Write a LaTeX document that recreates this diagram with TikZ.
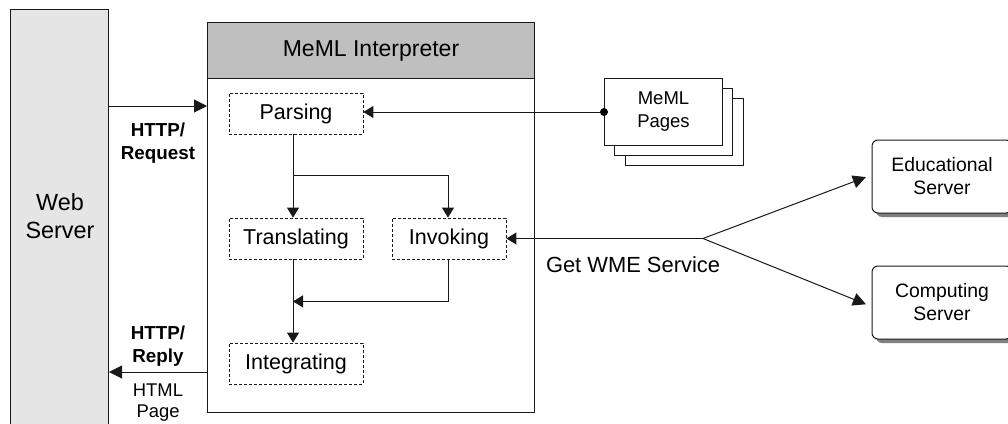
\documentclass[tikz,border=0pt]{standalone}
\usepackage{fontspec}
\setmainfont{Liberation Sans}
\usetikzlibrary{arrows.meta,calc,shadows}
\begin{document}
\begin{tikzpicture}[x=1pt,y=-1pt,
  line/.style={line width=1pt, draw=black!90},
  arr/.style={line, -{Triangle[length=10pt,width=12pt]}},
  bigarr/.style={line, -{Triangle[length=13pt,width=13pt]}},
  stepbox/.style={draw=black!90, line width=0.8pt, dash pattern=on 3pt off 2pt,
    minimum height=41pt, inner sep=0pt, font=\fontsize{21.5}{25}\selectfont},
  lbl/.style={align=center, inner sep=0pt, font=\fontsize{18.8}{23}\selectfont},
  page/.style={draw=black!90, line width=1pt, fill=white, minimum width=118pt,
    minimum height=67pt, inner sep=0pt, anchor=north west},
  server/.style={draw=black!90, line width=1pt, fill=white, rounded corners=6pt,
    minimum width=140pt, minimum height=73pt, inner sep=0pt, align=center,
    font=\fontsize{19.4}{23}\selectfont,
    drop shadow={shadow xshift=4pt, shadow yshift=-4pt, fill=black!50, opacity=1}},
]
\useasboundingbox (0,0) rectangle (1008,423);

% web server column
\node[line, draw, fill=black!10, minimum width=98pt, minimum height=440pt,
  inner sep=0pt, anchor=north west] (web) at (10,9) {};
\node[align=center, font=\fontsize{23.4}{28}\selectfont] (webtext) at (60,216) {Web\\Server};

% interpreter frame and header
\node[line, draw, minimum width=327pt, minimum height=390pt, inner sep=0pt,
  anchor=north west] (interp) at (207,22) {};
\node[line, draw, fill=black!25, minimum width=327pt, minimum height=56pt, inner sep=0pt,
  anchor=north west, font=\fontsize{23}{27}\selectfont] (header) at (207,22) {MeML Interpreter};

% processing steps
\node[stepbox, minimum width=134pt] (parsing) at (296,113.5) {Parsing};
\node[stepbox, minimum width=134pt] (translating) at (296,238.5) {Translating};
\node[stepbox, minimum width=134pt] (integrating) at (296,363.5) {Integrating};
\node[stepbox, minimum width=114pt] (invoking) at (449,238.5) {Invoking};

% page stack
\node[page] (page3) at (625,98) {};
\node[page] (page2) at (614,88) {};
\node[page, align=center, font=\fontsize{18.5}{23}\selectfont] (pages) at (604,78) {MeML\\Pages};

% remote servers
\node[server] (edu) at (942,176.5) {Educational\\Server};
\node[server] (comp) at (942,302.5) {Computing\\Server};

% HTTP traffic
\coordinate (reqY) at (0,106);
\coordinate (repY) at (0,372);
\draw[bigarr] (web.east |- reqY) -- (interp.west |- reqY);
\draw[bigarr] (interp.west |- repY) -- (web.east |- repY);
\node[lbl, font=\bfseries\fontsize{18.8}{23}\selectfont] (reqlbl) at (158,143) {HTTP/\\Request};
\node[lbl, font=\bfseries\fontsize{18.8}{23}\selectfont] (replbl) at (158,346) {HTTP/\\Reply};
\node[lbl, font=\fontsize{18.4}{21}\selectfont] (htmllbl) at (158,403) {HTML\\Page};

% internal flow
\draw[arr] ([xshift=-3pt]parsing.south) -- ([xshift=-3pt]translating.north);
\draw[arr] ($(parsing.south)+(-3,41)$) -| ([xshift=-1pt]invoking.north);
\draw[arr] ([xshift=-3pt]translating.south) -- ([xshift=-3pt]integrating.north);
\draw[arr] ([xshift=-1pt]invoking.south) |- ($(translating.south)+(-3,42)$);

% page input
\draw[arr] (pages.west) -- (pages.west -| parsing.east);
\fill[black] (pages.west) circle (4pt);

% service calls
\coordinate (junction) at (703,238.5);
\draw[arr] (junction) -- (invoking.east);
\draw[bigarr, shorten >=6pt] (junction) -- ([yshift=1.5pt]edu.west);
\draw[bigarr, shorten >=6pt] (junction) -- ([yshift=-4pt]comp.west);
\node[font=\fontsize{21.9}{26}\selectfont] (wme) at (633,265) {Get WME Service};
\end{tikzpicture}
\end{document}
